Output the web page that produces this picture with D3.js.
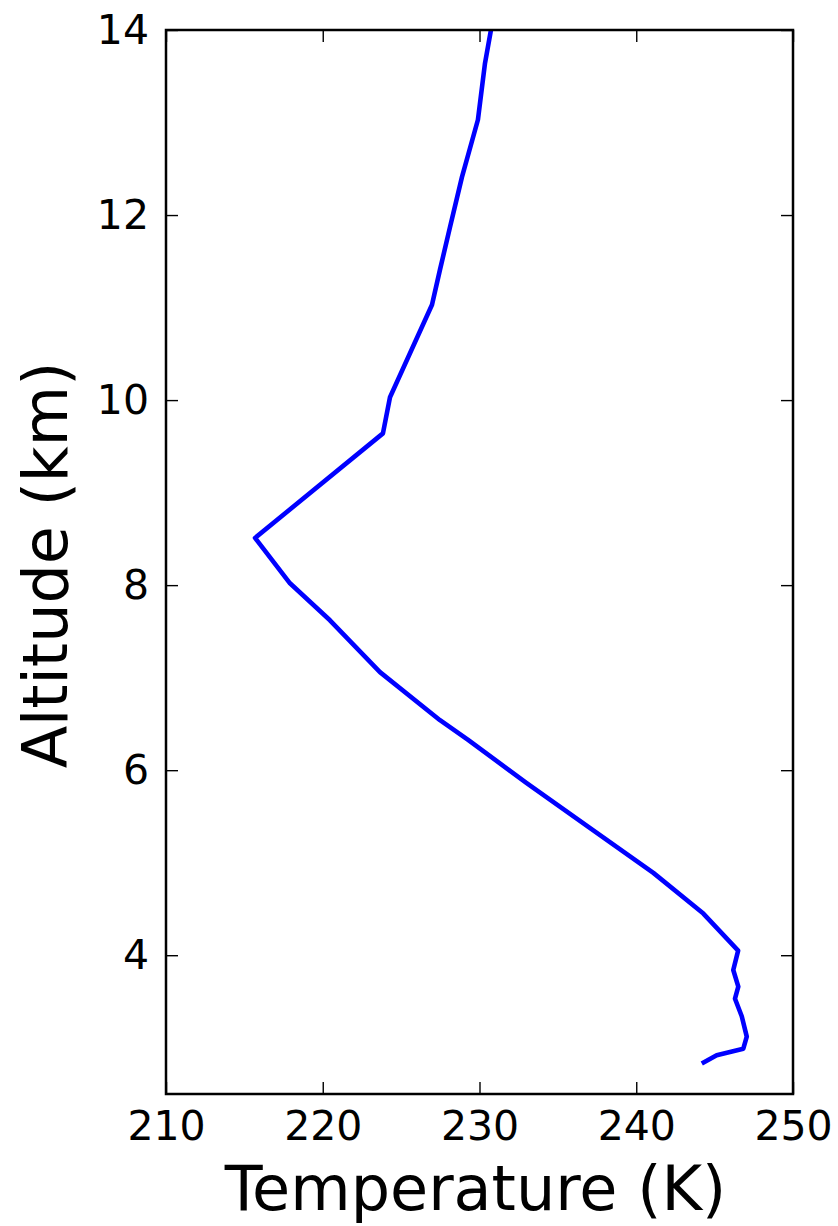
<!DOCTYPE html>
<html>
<head>
<meta charset="utf-8">
<script src="https://cdn.jsdelivr.net/npm/d3@7"></script>
<style>
  body { margin: 0; background: #fff; }
  svg { display: block; font-family: "DejaVu Sans", sans-serif; }
</style>
</head>
<body>
<svg id="chart" width="838" height="1226"></svg>
<script>
// temperature profile, from the ground up
const altitude = [2.83, 2.92, 2.99, 3.12, 3.34, 3.53, 3.66, 3.84, 4.05, 4.45, 4.89, 5.35, 5.86,
    6.33, 6.54, 7.06, 7.62, 8.02, 8.51, 9.64, 10.03, 11.03, 11.41, 11.87, 12.41, 13.03, 13.64, 14.0]
const temperature = [244.18, 245.13, 246.83, 247.05, 246.73, 246.3, 246.51, 246.19, 246.5, 244.28,
    241.09, 237.26, 233.01, 229.25, 227.48, 223.65, 220.46, 217.91, 215.68, 223.84, 224.29,
    226.97, 227.48, 228.12, 228.88, 229.9, 230.35, 230.73]

const xTicks = [210, 220, 230, 240, 250]
const yTicks = [4, 6, 8, 10, 12, 14]

const svg = d3.select('#chart')
const plotL = 166, plotR = 793, plotT = 30, plotB = 1094
const tick = 12

const x = d3.scaleLinear().domain([210, 250]).range([plotL, plotR])
const y = d3.scaleLinear().domain([2.5, 14]).range([plotB, plotT])

svg.append('clipPath')
    .attr('id', 'plot')
    .append('rect')
    .attr('x', plotL)
    .attr('y', plotT)
    .attr('width', plotR - plotL)
    .attr('height', plotB - plotT)

const points = altitude.map((a, i) => ({alt: a, temp: temperature[i]}))

svg.append('path')
    .datum(points)
    .attr('clip-path', 'url(#plot)')
    .attr('fill', 'none')
    .attr('stroke', '#0000ff')
    .attr('stroke-width', 4.6)
    .attr('stroke-linejoin', 'round')
    .attr('stroke-linecap', 'butt')
    .attr('d', d3.line().x(d => x(d.temp)).y(d => y(d.alt)))

// inward ticks on every side, like old matplotlib
const styleAxis = g => {
    g.select('.domain').remove()
    g.selectAll('.tick line').attr('stroke', '#000').attr('stroke-width', 1.4)
    g.selectAll('text').attr('fill', '#000').attr('font-size', 41)
        .attr('font-family', '"DejaVu Sans", sans-serif')
}

svg.append('g')
    .attr('transform', `translate(0,${plotB})`)
    .call(d3.axisBottom(x).tickValues(xTicks).tickSizeInner(-tick).tickSizeOuter(0).tickPadding(17))
    .call(styleAxis)

svg.append('g')
    .attr('transform', `translate(0,${plotT})`)
    .call(d3.axisTop(x).tickValues(xTicks).tickSizeInner(-tick).tickSizeOuter(0).tickFormat(''))
    .call(styleAxis)

svg.append('g')
    .attr('transform', `translate(${plotL},0)`)
    .call(d3.axisLeft(y).tickValues(yTicks).tickSizeInner(-tick).tickSizeOuter(0).tickPadding(17))
    .call(styleAxis)

svg.append('g')
    .attr('transform', `translate(${plotR},0)`)
    .call(d3.axisRight(y).tickValues(yTicks).tickSizeInner(-tick).tickSizeOuter(0).tickFormat(''))
    .call(styleAxis)

svg.append('rect')
    .attr('x', plotL)
    .attr('y', plotT)
    .attr('width', plotR - plotL)
    .attr('height', plotB - plotT)
    .attr('fill', 'none')
    .attr('stroke', '#000')
    .attr('stroke-width', 2.5)

svg.append('text')
    .attr('x', (plotL + plotR) / 2 - 4)
    .attr('y', 1210)
    .attr('text-anchor', 'middle')
    .attr('font-size', 62)
    .text('Temperature (K)')

svg.append('text')
    .attr('transform', `translate(67,${(plotT + plotB) / 2 + 3}) rotate(-90)`)
    .attr('text-anchor', 'middle')
    .attr('font-size', 62)
    .text('Altitude (km)')
</script>
</body>
</html>
